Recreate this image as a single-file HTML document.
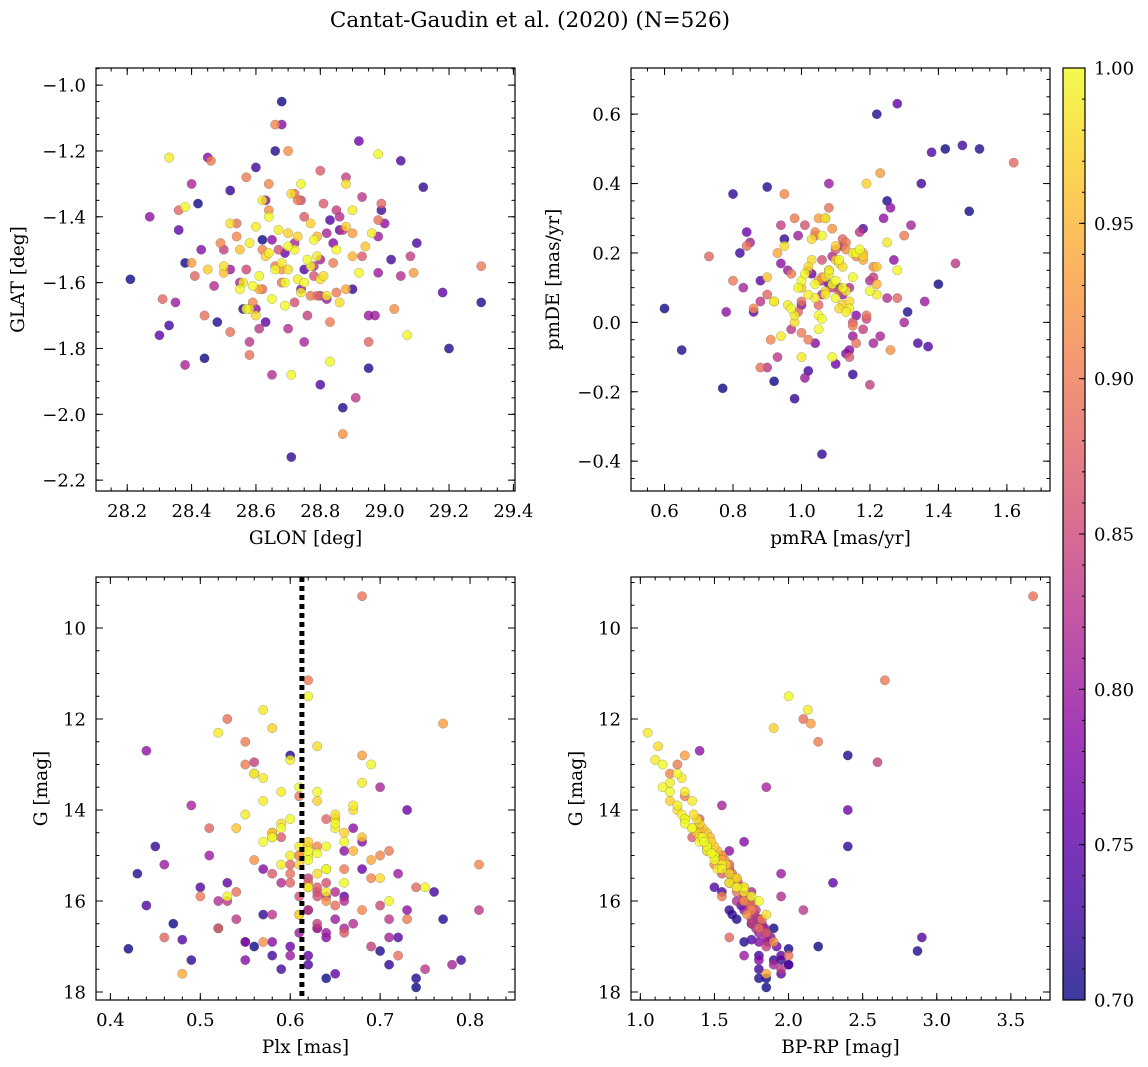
<!DOCTYPE html>
<html><head><meta charset="utf-8">
<style>
html,body{margin:0;padding:0;background:#fff;}
svg{display:block;font-family:"DejaVu Serif","Liberation Serif",serif;}
</style></head>
<body>
<svg id="fig" width="1148" height="1067" viewBox="0 0 1148 1067" xmlns="http://www.w3.org/2000/svg">
<rect width="1148" height="1067" fill="#fff"/>
<text x="530" y="27" font-size="21.5" text-anchor="middle">Cantat-Gaudin et al. (2020) (N=526)</text>
</svg>
<script>
// ---- data ----
const probD=[0.70,0.71,0.72,0.70,0.73,0.71,0.74,0.70,0.72,0.75,0.71,0.73,0.70,0.76,0.72,0.71,0.74,0.70,0.73,0.75,0.71,0.72,0.74,0.70,0.76,0.73,0.71,0.75,0.72,0.74];
const glonD=[28.21,29.30,28.71,28.68,28.33,28.95,29.05,28.44,28.52,29.18,28.87,28.60,28.38,28.92,29.12,28.48,28.80,28.62,28.99,28.30,29.20,28.56,28.75,28.42,28.86,29.02,28.66,28.36,28.90,29.10];
const glatD=[-1.59,-1.66,-2.13,-1.05,-1.73,-1.86,-1.23,-1.83,-1.32,-1.63,-1.98,-1.25,-1.54,-1.17,-1.31,-1.72,-1.91,-1.47,-1.38,-1.76,-1.80,-1.68,-1.56,-1.36,-1.44,-1.53,-1.20,-1.44,-1.62,-1.48];
const pmraD=[0.60,0.65,1.06,1.42,1.47,1.52,1.38,0.77,0.80,1.28,0.90,1.35,1.49,0.84,0.98,1.22,1.37,0.92,1.02,0.86,1.31,0.95,1.18,1.40,1.10,0.82,1.25,0.88,1.15,1.34];
const pmdeD=[0.04,-0.08,-0.38,0.50,0.51,0.50,0.49,-0.19,0.37,0.63,0.39,0.40,0.32,0.26,-0.22,0.60,-0.07,-0.17,-0.14,0.03,0.03,0.24,0.27,0.11,-0.12,0.20,0.35,0.12,-0.15,-0.06];
const plxD=[0.42,0.43,0.45,0.74,0.79,0.74,0.72,0.47,0.49,0.53,0.55,0.58,0.64,0.68,0.71,0.77,0.50,0.52,0.59,0.66,0.70,0.62,0.48,0.56,0.73,0.76,0.60,0.65,0.57,0.44];
const gD=[17.05,15.40,14.80,17.90,17.30,17.70,16.80,16.50,17.30,15.60,16.90,17.20,17.70,15.30,17.40,16.40,15.70,16.60,17.50,15.90,17.10,16.20,16.85,17.00,14.00,15.80,12.80,17.60,16.30,16.10];
const bprpD=[2.0,1.6,2.4,1.85,1.95,1.8,2.9,1.75,1.9,2.3,1.7,1.8,1.85,1.55,2.0,1.65,1.5,1.9,1.8,1.7,2.87,1.6,1.75,2.2,2.4,1.55,2.4,1.95,1.62,1.68];

const probM=[0.79,0.81,0.83,0.78,0.80,0.82,0.84,0.79,0.81,0.83,0.80,0.78,0.82,0.84,0.79,0.81,0.83,0.80,0.82,0.78,0.84,0.79,0.81,0.83,0.80,0.82,0.78,0.84,0.81,0.80];
const glonM=[28.27,28.40,28.58,28.74,28.97,29.05,28.50,28.63,28.82,28.91,28.35,28.45,28.70,28.88,29.00,28.55,28.78,28.95,28.65,28.43,28.85,28.60,28.72,28.93,28.52,28.80,28.68,29.08,28.38,28.98];
const glatM=[-1.40,-1.30,-1.78,-1.62,-1.70,-1.58,-1.50,-1.35,-1.45,-1.95,-1.66,-1.22,-1.74,-1.28,-1.42,-1.60,-1.55,-1.70,-1.88,-1.50,-1.38,-1.68,-1.48,-1.34,-1.56,-1.64,-1.12,-1.52,-1.85,-1.46];
const pmraM=[0.78,0.85,0.93,1.00,1.08,1.14,1.20,1.27,1.32,0.88,0.96,1.04,1.12,1.18,1.24,1.30,0.90,0.99,1.06,1.13,1.21,1.26,0.83,1.45,1.01,1.09,1.16,0.94,1.23,1.36];
const pmdeM=[0.03,0.23,-0.10,0.05,0.40,0.10,-0.18,0.18,0.28,0.06,0.15,-0.06,0.22,-0.02,0.30,0.00,-0.13,0.25,0.08,-0.09,0.13,0.33,0.10,0.17,-0.16,0.19,0.02,0.28,-0.04,0.06];
const plxM=[0.44,0.49,0.53,0.57,0.61,0.65,0.69,0.73,0.78,0.81,0.51,0.55,0.59,0.63,0.67,0.71,0.75,0.46,0.52,0.58,0.62,0.66,0.70,0.54,0.60,0.64,0.68,0.56,0.63,0.72];
const gM=[12.70,13.90,16.00,15.30,16.70,15.80,17.00,16.20,17.40,16.20,15.00,17.30,15.60,16.50,14.40,16.80,17.50,15.20,16.00,16.90,15.50,14.90,13.50,16.40,17.20,15.90,14.70,12.95,16.60,15.40];
const bprpM=[1.40,1.55,1.70,1.60,1.80,1.75,1.85,1.70,1.90,2.10,1.50,1.80,1.60,1.75,1.40,1.85,1.95,1.55,1.65,1.80,1.65,1.60,1.85,1.75,1.70,1.95,1.70,2.60,1.78,1.95];

const probS=[0.88,0.90,0.89,0.91,0.87,0.92,0.89,0.93,0.90,0.88,0.91,0.94,0.89,0.90,0.87,0.92,0.88,0.89,0.91,0.90,0.93,0.88,0.89,0.92,0.90,0.91,0.87,0.94,0.89,0.90,0.92,0.95,0.88,0.91,0.90];
const glonS=[28.31,28.46,28.58,28.66,28.80,28.87,28.98,29.09,29.30,28.36,28.49,28.61,28.72,28.83,28.93,29.03,28.41,28.54,28.64,28.77,28.90,28.99,28.52,28.70,28.84,28.62,28.75,28.88,28.44,28.57,28.68,28.79,28.95,28.59,28.73];
const glatS=[-1.65,-1.23,-1.82,-1.12,-1.26,-2.06,-1.41,-1.57,-1.55,-1.38,-1.48,-1.62,-1.33,-1.72,-1.52,-1.68,-1.58,-1.42,-1.30,-1.64,-1.45,-1.36,-1.75,-1.20,-1.54,-1.50,-1.40,-1.62,-1.70,-1.28,-1.56,-1.46,-1.78,-1.66,-1.35];
const pmraS=[0.73,0.80,0.88,0.95,1.02,1.09,1.16,1.23,1.30,1.62,0.86,0.93,1.00,1.07,1.14,1.21,1.28,0.84,0.91,0.98,1.05,1.12,1.19,1.26,0.97,1.04,1.11,1.18,1.08,1.00,1.13,1.22,0.90,1.06,1.15];
const pmdeS=[0.19,0.12,-0.13,0.37,0.15,0.27,-0.06,0.43,0.25,0.46,0.04,0.20,0.06,0.30,-0.10,0.16,0.07,0.22,-0.05,0.30,0.12,0.24,0.02,-0.08,0.14,0.26,0.09,0.18,0.33,-0.03,0.21,0.11,0.08,0.13,-0.01];
const plxS=[0.46,0.50,0.53,0.56,0.59,0.62,0.65,0.68,0.71,0.74,0.81,0.48,0.52,0.55,0.58,0.61,0.64,0.68,0.70,0.73,0.77,0.51,0.54,0.57,0.62,0.63,0.66,0.69,0.72,0.61,0.64,0.58,0.62,0.68,0.55];
const gS=[16.80,15.90,12.00,13.20,14.60,15.70,16.10,12.80,14.90,15.70,15.20,17.60,16.60,13.00,15.40,16.30,14.20,9.30,15.00,16.40,12.10,14.40,15.80,16.90,11.15,14.80,16.70,15.10,17.20,13.70,16.00,14.50,15.60,16.20,12.50];
const bprpS=[1.60,1.55,2.10,1.20,1.35,1.65,1.75,1.30,1.45,1.70,1.50,1.85,1.80,1.25,1.55,1.72,1.40,3.65,1.50,1.82,2.15,1.40,1.65,1.90,2.65,1.45,1.85,1.55,2.00,1.30,1.70,1.40,1.60,1.75,2.20];

const probY=[0.99,1.00,0.98,1.00,0.99,1.00,0.97,1.00,0.99,1.00,0.98,1.00,0.99,1.00,1.00,0.98,0.99,1.00,0.97,1.00,0.99,1.00,0.98,1.00,0.99,1.00,0.97,1.00,0.99,1.00,0.98,1.00,0.99,1.00,0.98,0.99,1.00,0.97,1.00,0.99,1.00,0.98,1.00,0.99,1.00];
const glonY=[28.33,28.38,28.50,28.55,28.58,28.61,28.63,28.65,28.67,28.69,28.70,28.72,28.74,28.76,28.78,28.80,28.82,28.85,28.88,28.92,28.96,29.07,28.60,28.64,28.68,28.71,28.73,28.75,28.79,28.83,28.52,28.57,28.62,28.66,28.86,28.90,28.98,28.45,28.70,28.77,28.59,28.81,28.74,28.64,28.69];
const glatY=[-1.22,-1.37,-1.55,-1.62,-1.48,-1.58,-1.52,-1.65,-1.44,-1.60,-1.56,-1.50,-1.63,-1.53,-1.47,-1.59,-1.64,-1.50,-1.43,-1.57,-1.45,-1.76,-1.70,-1.40,-1.54,-1.88,-1.46,-1.60,-1.52,-1.84,-1.42,-1.68,-1.35,-1.56,-1.66,-1.38,-1.21,-1.56,-1.49,-1.55,-1.61,-1.58,-1.30,-1.51,-1.67];
const pmraY=[0.96,1.00,1.03,1.05,1.07,1.08,1.10,1.12,1.14,1.16,0.98,1.01,1.04,1.06,1.09,1.11,1.13,1.15,1.18,1.20,0.94,0.92,1.02,1.05,1.07,1.10,1.12,1.17,1.22,0.99,1.03,1.06,1.08,1.11,1.14,1.25,1.28,1.19,1.09,1.13,1.04,1.07,0.97,1.15,1.10];
const pmdeY=[0.05,0.12,0.18,0.02,0.08,0.15,0.22,0.10,0.04,0.20,0.00,0.14,0.07,0.25,0.11,0.17,0.03,0.13,0.19,0.09,-0.04,0.06,0.16,-0.02,0.30,0.12,0.05,0.21,0.08,0.10,0.24,0.01,0.14,0.18,0.06,0.23,0.15,0.40,-0.10,0.09,0.11,0.13,0.04,0.20,0.07];
const plxY=[0.52,0.56,0.58,0.60,0.61,0.62,0.63,0.64,0.65,0.66,0.67,0.57,0.59,0.61,0.62,0.63,0.64,0.65,0.66,0.62,0.60,0.63,0.70,0.71,0.55,0.58,0.61,0.64,0.67,0.62,0.63,0.59,0.60,0.62,0.65,0.68,0.53,0.58,0.63,0.64,0.66,0.61,0.69,0.57,0.75];
const gY=[12.30,13.20,14.60,14.20,14.80,15.00,13.80,15.30,14.40,15.60,14.00,14.70,15.20,13.50,14.90,15.40,15.80,14.30,14.50,15.10,12.90,13.60,15.50,16.00,14.10,14.60,15.20,14.80,13.90,11.50,12.60,14.40,15.00,15.70,14.20,13.40,15.90,12.20,14.95,15.30,14.70,16.30,13.00,11.80,15.70];
const bprpY=[1.05,1.25,1.40,1.30,1.45,1.50,1.20,1.55,1.35,1.60,1.25,1.40,1.55,1.15,1.45,1.60,1.70,1.30,1.38,1.50,1.10,1.20,1.65,1.80,1.28,1.42,1.58,1.45,1.25,2.00,1.12,1.35,1.50,1.70,1.30,1.20,1.75,1.90,1.48,1.52,1.43,1.85,1.15,2.13,1.65];

const probE=[0.96,0.88,0.97,0.86,0.82,0.98,0.90,0.85,0.80,0.95,0.99,0.89,0.84,0.78,0.96,0.92,0.86,0.81,0.98,0.91,0.83,0.76,0.97,0.90,0.85,0.79,0.99,0.87,0.82,0.96,0.93,0.80,0.75,0.98,0.88,0.83,0.99,0.86,0.81,0.74];
const glonE=[28.55,28.62,28.70,28.78,28.86,28.58,28.66,28.74,28.82,28.90,28.60,28.68,28.76,28.84,28.50,28.64,28.72,28.80,28.88,28.54,28.61,28.69,28.77,28.85,28.57,28.65,28.73,28.81,28.47,28.94,28.40,28.98,28.63,28.71,28.79,28.87,28.56,28.67,28.75,28.83];
const glatE=[-1.50,-1.62,-1.45,-1.58,-1.40,-1.68,-1.55,-1.35,-1.65,-1.52,-1.43,-1.60,-1.70,-1.48,-1.57,-1.38,-1.66,-1.53,-1.30,-1.46,-1.74,-1.51,-1.42,-1.63,-1.56,-1.47,-1.59,-1.36,-1.61,-1.49,-1.54,-1.57,-1.72,-1.33,-1.64,-1.44,-1.60,-1.50,-1.78,-1.41];
const pmraE=[1.00,1.05,1.10,1.15,1.20,0.95,1.02,1.08,1.12,1.18,0.98,1.04,1.09,1.14,1.22,0.92,1.01,1.06,1.11,1.16,0.97,1.03,1.07,1.13,1.19,0.94,1.00,1.10,1.25,0.90,1.05,1.15,1.08,1.12,0.99,1.17,1.02,1.06,1.21,1.11];
const pmdeE=[0.10,0.05,0.18,0.00,0.12,0.22,-0.05,0.15,0.08,0.20,0.02,0.25,0.10,-0.08,0.16,0.06,0.28,0.12,0.04,0.19,-0.02,0.14,0.09,0.23,0.01,0.17,-0.10,0.21,0.07,0.13,0.30,-0.04,0.11,0.16,0.03,0.26,0.08,0.18,-0.06,0.10];
const plxE=[0.58,0.60,0.62,0.64,0.66,0.59,0.61,0.63,0.65,0.67,0.57,0.60,0.62,0.64,0.68,0.56,0.61,0.63,0.65,0.69,0.58,0.60,0.62,0.66,0.70,0.55,0.59,0.63,0.67,0.54,0.61,0.64,0.62,0.65,0.60,0.71,0.57,0.63,0.66,0.62];
const gE=[14.5,15.2,14.8,15.6,16.0,14.3,15.0,15.8,16.4,14.9,13.8,15.4,16.2,16.8,14.6,15.1,15.9,16.6,14.2,15.5,16.3,17.0,14.7,15.3,16.1,16.9,13.6,15.7,16.5,14.4,15.0,16.7,17.2,14.1,15.6,16.4,13.3,15.9,16.6,17.4];
const bprpE=[1.45,1.60,1.50,1.65,1.75,1.40,1.55,1.70,1.80,1.52,1.35,1.62,1.78,1.88,1.47,1.57,1.72,1.84,1.38,1.64,1.77,1.92,1.48,1.60,1.74,1.86,1.30,1.68,1.82,1.42,1.55,1.85,1.95,1.36,1.66,1.80,1.28,1.70,1.83,2.00];

const plxMedian=0.613;
const cbTicks=[0.70,0.75,0.80,0.85,0.90,0.95,1.00];

// ---- rendering ----
const NS="http://www.w3.org/2000/svg";
const svg=document.getElementById('fig');
function mk(tag,attrs,parent){const e=document.createElementNS(NS,tag);for(const k in attrs)e.setAttribute(k,attrs[k]);(parent||svg).appendChild(e);return e;}
const stops=[[0,'#0d0887'],[0.1,'#41049d'],[0.2,'#6a00a8'],[0.3,'#8f0da4'],[0.4,'#b12a90'],[0.5,'#cc4778'],[0.6,'#e16462'],[0.7,'#f2844b'],[0.8,'#fca636'],[0.9,'#fcce25'],[1,'#f0f921']];
function hex(h){return [1,3,5].map(i=>parseInt(h.substr(i,2),16));}
function plasma(t){t=Math.max(0,Math.min(1,t));for(let i=1;i<stops.length;i++){if(t<=stops[i][0]){const a=stops[i-1],b=stops[i];const f=(t-a[0])/(b[0]-a[0]);const c1=hex(a[1]),c2=hex(b[1]);return 'rgb('+c1.map((v,j)=>Math.round(v+(c2[j]-v)*f)).join(',')+')';}}return stops[10][1];}
const PMIN=0.70,PMAX=1.00;
function fmt(v,d){const s=Math.abs(v).toFixed(d);return (v<-1e-9?'\u2212':'')+s;}

function buildStars(){
  const groups=[[probD,glonD,glatD,pmraD,pmdeD,plxD,gD,bprpD],[probM,glonM,glatM,pmraM,pmdeM,plxM,gM,bprpM],[probS,glonS,glatS,pmraS,pmdeS,plxS,gS,bprpS],[probY,glonY,glatY,pmraY,pmdeY,plxY,gY,bprpY],[probE,glonE,glatE,pmraE,pmdeE,plxE,gE,bprpE]];
  const out=[];
  groups.forEach(gr=>{const n=Math.min(...gr.map(a=>a.length));for(let i=0;i<n;i++)out.push({p:gr[0][i],glon:gr[1][i],glat:gr[2][i],pmra:gr[3][i],pmde:gr[4][i],plx:gr[5][i],g:gr[6][i],bprp:gr[7][i]});});
  out.sort((a,b)=>a.p-b.p);
  return out;
}
const stars=buildStars();

function panel(cfg){
  const {name,x0,x1,y0,y1,xmin,xmax,ymin,ymax,xt,xminor,yt,yminor,xd,yd,xlabel,ylabel,xkey,ykey,invert,ylx}=cfg;
  const g=mk('g',{});
  
  
  const sx=v=>x0+(v-xmin)/(xmax-xmin)*(x1-x0);
  const sy=invert?(v=>y0+(v-ymin)/(ymax-ymin)*(y1-y0)):(v=>y1-(v-ymin)/(ymax-ymin)*(y1-y0));
  const clip=mk('clipPath',{id:'clip-'+name},g);mk('rect',{x:x0,y:y0,width:x1-x0,height:y1-y0},clip);
  const pts=mk('g',{'clip-path':'url(#clip-'+name+')'},g);
  stars.forEach(s=>{
    const c=mk('circle',{cx:sx(s[xkey]).toFixed(1),cy:sy(s[ykey]).toFixed(1),r:4.7,fill:plasma((s.p-PMIN)/(PMAX-PMIN)),'fill-opacity':0.8,stroke:'#555','stroke-width':0.4,'stroke-opacity':0.6},pts);
    
    
  });
  if(cfg.vline!==undefined){
    const l=mk('line',{x1:sx(cfg.vline),x2:sx(cfg.vline),y1:y0,y2:y1,stroke:'#000','stroke-width':5,'stroke-dasharray':'5 4'},pts);
    
    
  }
  const tk=mk('g',{stroke:'#000','stroke-width':1},g);
  const eps=1e-9;
  for(let v=Math.ceil(xmin/xminor-eps)*xminor;v<=xmax+eps;v+=xminor){const X=sx(v);mk('line',{x1:X,x2:X,y1:y1,y2:y1-3.5},tk);mk('line',{x1:X,x2:X,y1:y0,y2:y0+3.5},tk);}
  for(let v=Math.ceil(ymin/yminor-eps)*yminor;v<=ymax+eps;v+=yminor){const Y=sy(v);mk('line',{x1:x0,x2:x0+3.5,y1:Y,y2:Y},tk);mk('line',{x1:x1,x2:x1-3.5,y1:Y,y2:Y},tk);}
  xt.forEach(v=>{const X=sx(v);if(X<x0-0.5||X>x1+0.5)return;mk('line',{x1:X,x2:X,y1:y1,y2:y1-7},tk);mk('line',{x1:X,x2:X,y1:y0,y2:y0+7},tk);
    const t=mk('text',{x:X,y:y1+26,'font-size':18,'text-anchor':'middle'},g);t.textContent=fmt(v,xd);
    
    });
  yt.forEach(v=>{const Y=sy(v);mk('line',{x1:x0,x2:x0+7,y1:Y,y2:Y},tk);mk('line',{x1:x1,x2:x1-7,y1:Y,y2:Y},tk);
    const t=mk('text',{x:x0-10,y:Y+6.5,'font-size':18,'text-anchor':'end'},g);t.textContent=fmt(v,yd);
    
    });
  mk('rect',{x:x0,y:y0,width:x1-x0,height:y1-y0,fill:'none',stroke:'#000','stroke-width':1.2},g);
  const xl=mk('text',{x:(x0+x1)/2,y:y1+53,'font-size':18.5,'text-anchor':'middle'},g);xl.textContent=xlabel;
  
  
  const yl=mk('text',{x:0,y:0,'font-size':18.5,'text-anchor':'middle',transform:`translate(${ylx},${(y0+y1)/2}) rotate(-90)`},g);yl.textContent=ylabel;
  
  
}

panel({name:'panel-glon-glat',x0:96,x1:515,y0:68,y1:491,xmin:28.103,xmax:29.405,ymin:-2.233,ymax:-0.948,xt:[28.2,28.4,28.6,28.8,29.0,29.2,29.4],xminor:0.05,yt:[-1.0,-1.2,-1.4,-1.6,-1.8,-2.0,-2.2],yminor:0.05,xd:1,yd:1,xlabel:'GLON [deg]',ylabel:'GLAT [deg]',xkey:'glon',ykey:'glat',ylx:24});
panel({name:'panel-pm',x0:631,x1:1050,y0:68,y1:491,xmin:0.502,xmax:1.726,ymin:-0.486,ymax:0.733,xt:[0.6,0.8,1.0,1.2,1.4,1.6],xminor:0.05,yt:[0.6,0.4,0.2,0.0,-0.2,-0.4],yminor:0.05,xd:1,yd:1,xlabel:'pmRA [mas/yr]',ylabel:'pmDE [mas/yr]',xkey:'pmra',ykey:'pmde',ylx:559});
panel({name:'panel-plx-g',x0:96,x1:515,y0:577,y1:1000,xmin:0.384,xmax:0.850,ymin:8.879,ymax:18.176,xt:[0.4,0.5,0.6,0.7,0.8],xminor:0.02,yt:[10,12,14,16,18],yminor:0.5,xd:1,yd:0,xlabel:'Plx [mas]',ylabel:'G [mag]',xkey:'plx',ykey:'g',invert:true,vline:plxMedian,ylx:47});
panel({name:'panel-cmd',x0:631,x1:1050,y0:577,y1:1000,xmin:0.937,xmax:3.764,ymin:8.879,ymax:18.176,xt:[1.0,1.5,2.0,2.5,3.0,3.5],xminor:0.1,yt:[10,12,14,16,18],yminor:0.5,xd:1,yd:0,xlabel:'BP-RP [mag]',ylabel:'G [mag]',xkey:'bprp',ykey:'g',invert:true,ylx:582});

// colorbar
(function(){
  const cx0=1063,cx1=1085,cy0=68,cy1=1000;
  const cg=mk('g',{});
  
  
  const defs=mk('defs',{},cg);
  const lg=mk('linearGradient',{id:'cbgrad',x1:0,y1:1,x2:0,y2:0},defs);
  stops.forEach(s=>mk('stop',{offset:s[0],'stop-color':s[1]},lg));
  mk('rect',{x:cx0,y:cy0,width:cx1-cx0,height:cy1-cy0,fill:'url(#cbgrad)','fill-opacity':0.8},cg);
  const sy=v=>cy1-(v-PMIN)/(PMAX-PMIN)*(cy1-cy0);
  for(let v=0.70;v<=1.0001;v+=0.01){const Y=sy(v);mk('line',{x1:cx1,x2:cx1-3,y1:Y,y2:Y,stroke:'#000','stroke-width':1},cg);}
  cbTicks.forEach(v=>{const Y=sy(v);mk('line',{x1:cx1,x2:cx1-6,y1:Y,y2:Y,stroke:'#000','stroke-width':1},cg);
    const t=mk('text',{x:cx1+9,y:Y+6.5,'font-size':18},cg);t.textContent=v.toFixed(2);
    
    });
  mk('rect',{x:cx0,y:cy0,width:cx1-cx0,height:cy1-cy0,fill:'none',stroke:'#000','stroke-width':1.2},cg);
})();
</script>
</body></html>
